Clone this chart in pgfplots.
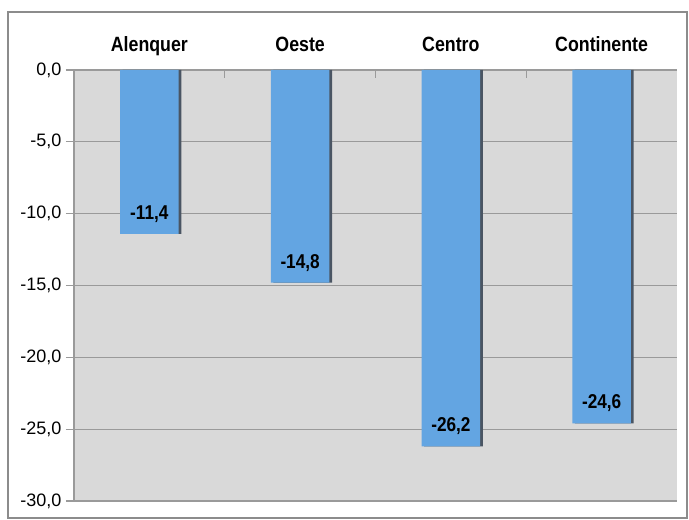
\documentclass[border=0pt]{standalone}
\usepackage{fontspec}
\setmainfont{Liberation Sans}
\newfontfamily\narrowbold[FakeStretch=0.86]{Liberation Sans Bold}
\usepackage{pgfplots}
\pgfplotsset{compat=1.18}

\definecolor{barblue}{HTML}{63A5E2}
\definecolor{barshadow}{HTML}{4A5563}
\definecolor{plotbg}{HTML}{D9D9D9}
\definecolor{gridgray}{HTML}{9A9A9A}
\definecolor{framegray}{HTML}{8C8C8C}

\begin{document}
\begin{tikzpicture}[x=0.75pt,y=0.75pt]
  % page = 689 x 520 px, axis box lower left at (74,501) px
  \useasboundingbox (-74,-19) rectangle (615,501);
  \draw[framegray, line width=1.2pt] (-66,-17) rectangle (613,489);

  \begin{axis}[
    at={(0,0)}, anchor=south west,
    scale only axis,
    width=452.25pt, height=323.25pt,
    ybar,
    bar width=44pt,
    xmin=-0.5, xmax=3.5,
    ymin=-30, ymax=0,
    axis background/.style={fill=plotbg},
    axis x line*=top,
    axis y line*=left,
    axis line style={gridgray, line width=0.8pt},
    ymajorgrids,
    grid style={gridgray, line width=0.8pt},
    xtick={0,1,2,3},
    xticklabels={Alenquer,Oeste,Centro,Continente},
    xticklabel style={font=\narrowbold\fontsize{15.5}{18}\selectfont,
      anchor=base, yshift=7.5pt},
    x tick style={draw=none},
    extra x ticks={0.5,1.5,2.5},
    extra x tick labels={},
    extra x tick style={tick align=inside, x tick style={draw=gridgray, line width=0.8pt}},
    ytick={0,-5,-10,-15,-20,-25,-30},
    y tick style={draw=gridgray, line width=0.8pt},
    tick align=outside,
    major tick length=6pt,
    yticklabel style={font=\fontsize{13.5}{16}\selectfont},
    /pgf/number format/.cd, use comma, fixed, fixed zerofill, precision=1,
      assume math mode=true,
  ]
    % shadow
    \addplot[fill=barshadow, draw=none, bar shift=2pt] coordinates {
      (0,-11.4) (1,-14.8) (2,-26.2) (3,-24.6)
    };
    % bars
    \addplot[fill=barblue, draw=none, bar shift=0pt,
      nodes near coords,
      nodes near coords style={anchor=south, yshift=5pt, text=black,
        font=\narrowbold\fontsize{15}{18}\selectfont}] coordinates {
      (0,-11.4) (1,-14.8) (2,-26.2) (3,-24.6)
    };
  \end{axis}
\end{tikzpicture}
\end{document}
